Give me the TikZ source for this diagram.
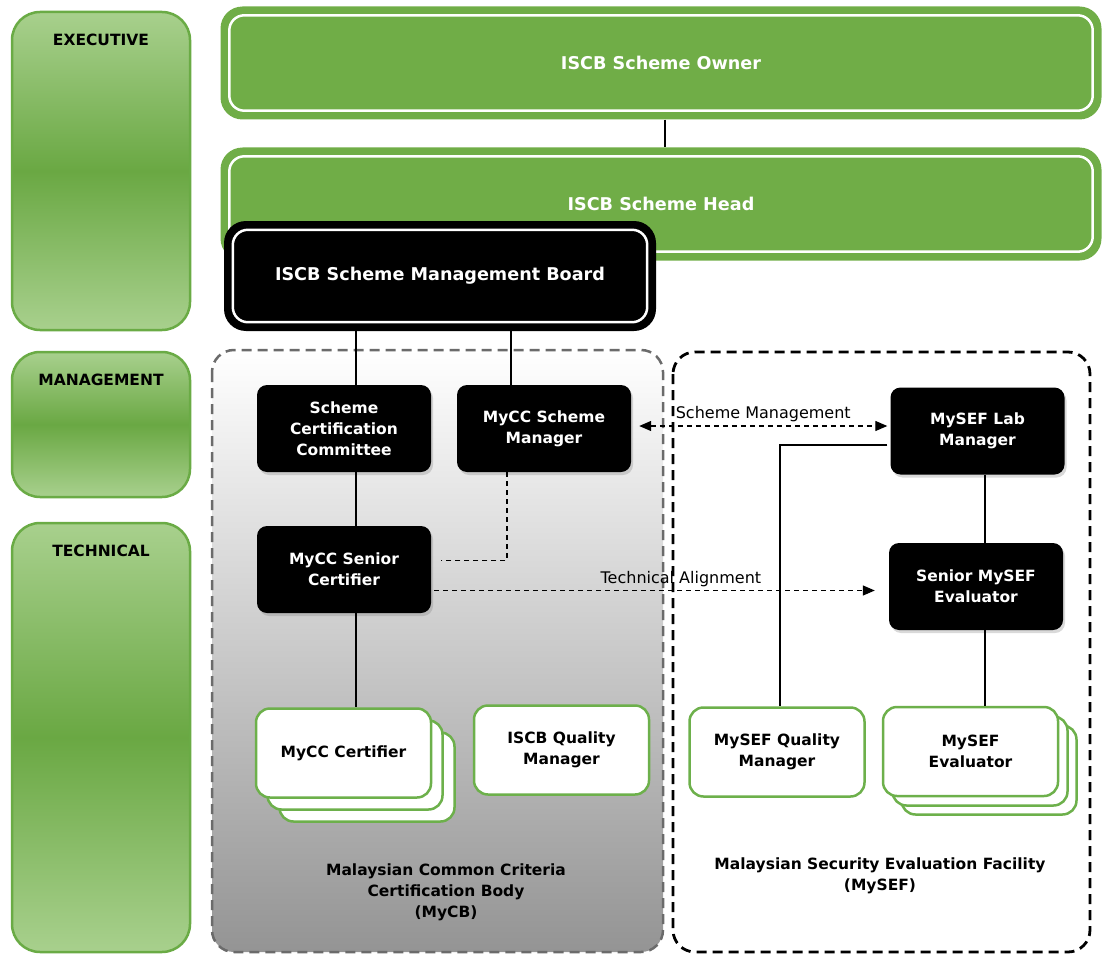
\documentclass[tikz,border=0pt]{standalone}
\usepackage{fontspec}
\setmainfont{DejaVu Sans}
\usetikzlibrary{positioning,calc,arrows.meta,shadows}

\definecolor{schemegreen}{HTML}{70AD47}
\definecolor{lanelight}{HTML}{A8D08D}
\definecolor{lanedark}{HTML}{6AA843}
\definecolor{laneedge}{HTML}{6AAB45}
\definecolor{boxgreen}{HTML}{6DB04B}

\begin{document}
\begin{tikzpicture}[x=1pt, y=-1pt, >={Triangle[length=12pt,width=10pt]},
    lane/.style={rounded corners=28pt, draw=laneedge, line width=2.5pt, top color=lanelight, bottom color=lanelight, middle color=lanedark},
    lanelabel/.style={font=\fontsize{15.5}{18}\selectfont\bfseries},
    schemebox/.style={fill=schemegreen, rounded corners=22pt, minimum width=881pt, minimum height=113pt, text=white, font=\fontsize{17.6}{20}\selectfont\bfseries},
    blackbox/.style={fill=black, rounded corners=10pt, minimum width=174pt, minimum height=87pt, text=white, align=center, font=\fontsize{15.5}{21}\selectfont\bfseries, drop shadow={opacity=0.3, shadow xshift=2pt, shadow yshift=-3pt}},
    greenbox/.style={draw=boxgreen, fill=white, line width=2.5pt, rounded corners=14pt, minimum width=175pt, minimum height=89pt, align=center, font=\fontsize{15.5}{21}\selectfont\bfseries},
    grouplabel/.style={align=center, font=\fontsize{15.5}{21}\selectfont\bfseries},
    link/.style={line width=1.2pt},
    dashlink/.style={line width=1.3pt, dash pattern=on 5pt off 4pt}]
    \useasboundingbox (0,0) rectangle (1103,955);

    % lanes
    \path[lane] (12,12) rectangle (190,330);
    \path[lane] (12,352) rectangle (190,497);
    \path[lane] (12,523) rectangle (190,952);
    \node[lanelabel] (exec) at (101,40) {EXECUTIVE};
    \node[lanelabel] (mgmt) at (101,380) {MANAGEMENT};
    \node[lanelabel] (tech) at (101,551) {TECHNICAL};

    % groups
    \path[top color=white, middle color=black!6, bottom color=black!42, draw=black!58, line width=2.5pt, dash pattern=on 10pt off 6pt, rounded corners=22pt] (212,350) rectangle (663,952);
    \draw[line width=2.8pt, dash pattern=on 10pt off 6pt, rounded corners=22pt] (673,352) rectangle (1090,952);
    \node[grouplabel] (mycb) at (446,892) {Malaysian Common Criteria\\Certification Body\\(MyCB)};
    \node[grouplabel] (mysef) at (880,876) {Malaysian Security Evaluation Facility\\(MySEF)};

    % executive
    \node[schemebox] (owner) at (661,63) {ISCB Scheme Owner};
    \draw[white, line width=2.5pt, rounded corners=15pt] ($(owner.north west)+(9,9)$) rectangle ($(owner.south east)+(-9,-9)$);
    \node[schemebox] (head) at (661,204) {ISCB Scheme Head};
    \draw[white, line width=2.5pt, rounded corners=15pt] ($(head.north west)+(9,9)$) rectangle ($(head.south east)+(-9,-9)$);
    \draw[link] ($(owner.south)+(4,0)$) -- ($(head.north)+(4,0)$);
    \node[fill=black, rounded corners=22pt, minimum width=432pt, minimum height=110pt, text=white, font=\fontsize{17.6}{20}\selectfont\bfseries] (board) at (440,276) {ISCB Scheme Management Board};
    \draw[white, line width=2.5pt, rounded corners=15pt] ($(board.north west)+(9,9)$) rectangle ($(board.south east)+(-9,-9)$);

    % MyCB
    \node[blackbox] (scc) at (344,428.5) {Scheme\\Certification\\Committee};
    \node[blackbox] (mgr) at (544,428.5) {MyCC Scheme\\Manager};
    \node[blackbox] (senior) at (344,569.5) {MyCC Senior\\Certifier};
    \node[greenbox] (cert3) at (367,777) {};
    \node[greenbox] (cert2) at (355,765) {};
    \node[greenbox] (cert1) at (343.5,753) {MyCC Certifier};
    \node[greenbox] (qm) at (561.5,750) {ISCB Quality\\Manager};

    % MySEF
    \node[blackbox] (lab) at (977.5,431) {MySEF Lab\\Manager};
    \node[blackbox] (sme) at (976,586.5) {Senior MySEF\\Evaluator};
    \node[greenbox] (sqm) at (777,752) {MySEF Quality\\Manager};
    \node[greenbox] (eval3) at (989,770) {};
    \node[greenbox] (eval2) at (980,761) {};
    \node[greenbox] (eval1) at (970.5,751.5) {MySEF\\Evaluator};

    % links
    \draw[link] ($(board.south)+(-84,0)$) -- ($(scc.north)+(12,0)$);
    \draw[link] ($(board.south)+(71,0)$) -- ($(mgr.north)+(-33,0)$);
    \draw[link] ($(scc.south)+(12,0)$) -- ($(senior.north)+(12,0)$);
    \draw[link] ($(senior.south)+(12,0)$) -- ($(cert1.north)+(12.5,0)$);
    \draw[link] ($(mgr.south)+(20,0)$) -- ($(mgr.south)+(20,0)$ |- qm.north);
    \draw[dashlink] ($(mgr.south)+(-37,0)$) |- ($(senior.east)+(10,-9)$);
    \draw[dashlink, <->] ($(mgr.east)+(8,-2.5)$) -- node[above, font=\fontsize{16}{19}\selectfont] (smlabel) {Scheme Management} ($(lab.west)+(-3,-5)$);
    \draw[dashlink, ->] ($(senior.east)+(3,21)$) -- node[above, pos=0.56, font=\fontsize{16}{19}\selectfont] (talabel) {Technical Alignment} ($(sme.west)+(-14,4)$);
    \draw[link] ($(lab.west)+(-3,14)$) -| ($(sqm.north)+(3,0)$);
    \draw[link] ($(lab.south)+(7.5,0)$) -- ($(sme.north)+(9,0)$);
    \draw[link] ($(sme.south)+(9,0)$) -- ($(eval1.north)+(14.5,0)$);
\end{tikzpicture}
\end{document}
